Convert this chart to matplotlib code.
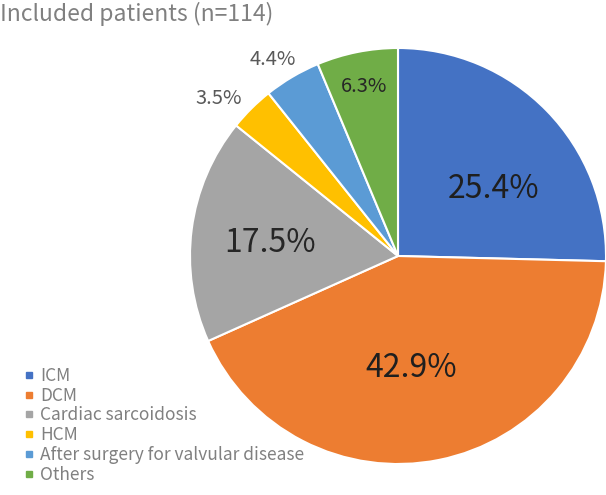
import numpy as np
import matplotlib.pyplot as plt
from matplotlib.lines import Line2D

plt.rcParams['font.family'] = ['Noto Sans CJK JP', 'DejaVu Sans']

# data
labels = ['ICM', 'DCM', 'Cardiac sarcoidosis', 'HCM',
          'After surgery for valvular disease', 'Others']
pcts = [25.4, 42.9, 17.5, 3.5, 4.4, 6.3]
colors = ['#4472C4', '#ED7D31', '#A5A5A5', '#FFC000', '#5B9BD5', '#70AD47']
title = 'Included patients (n=114)'

# label placement (fraction of radius, font size, colour, angle shift)
lab_r = [0.56, 0.54, 0.62, 1.15, 1.12, 0.83]
lab_fs = [23, 23, 23, 14.5, 14.5, 14.5]
lab_col = ['#1f1f1f', '#1f1f1f', '#262626', '#595959', '#595959', '#262626']
lab_shift = [-9, -4.7, 1.6, 3.9, 1.9, 0]

W, H = 606, 495
fig = plt.figure(figsize=(W / 100, H / 100), dpi=100)
cx, cy, R = 398, 256, 208
ax = fig.add_axes([(cx - R) / W, (H - cy - R) / H, 2 * R / W, 2 * R / H])

wedges, _ = ax.pie(pcts, colors=colors, startangle=90, counterclock=False,
                   radius=1, wedgeprops=dict(edgecolor='white', linewidth=1.5))
ax.set_xlim(-1, 1)
ax.set_ylim(-1, 1)
ax.set_aspect('equal')

for w, p, r, fs, c, sh in zip(wedges, pcts, lab_r, lab_fs, lab_col, lab_shift):
    ang = np.deg2rad((w.theta1 + w.theta2) / 2 + sh)
    ax.text(r * np.cos(ang), r * np.sin(ang), '{:.1f}%'.format(p),
            ha='center', va='center', fontsize=fs, color=c)

fig.text(0.0, 1 - 14 / H, title, fontsize=16.5, color='#808080',
         ha='left', va='center')

handles = [Line2D([], [], marker='s', ls='', color=c, markersize=5)
           for c in colors]
fig.legend(handles, labels, loc='upper left', bbox_to_anchor=(24 / W, 1 - 367 / H),
           frameon=False, fontsize=12.5, labelcolor='#808080', handlelength=0.6,
           handletextpad=0.35, labelspacing=0.1, borderpad=0, borderaxespad=0)

fig.savefig('out.png', dpi=100)
